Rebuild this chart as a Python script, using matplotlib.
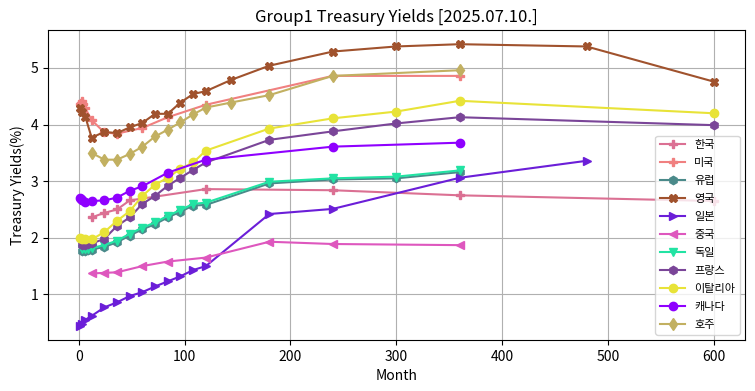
import matplotlib
matplotlib.use("Agg")
import matplotlib.pyplot as plt

plt.rcParams['font.family'] = ['Noto Sans CJK KR', 'DejaVu Sans']

# 국가별 만기(월)와 수익률(%)
kr_month = [12, 24, 36, 48, 120, 240, 360, 600]
kr_yield = [2.36, 2.44, 2.50, 2.66, 2.86, 2.84, 2.75, 2.65]

us_month = [1, 2, 3, 4, 6, 12, 24, 36, 60, 84, 120, 240, 360]
us_yield = [4.36, 4.38, 4.42, 4.36, 4.29, 4.08, 3.86, 3.84, 3.94, 4.13, 4.35, 4.86, 4.86]

eu_month = [3, 6, 9, 12, 24, 36, 48, 60, 72, 84, 96, 108, 120, 180, 240, 300, 360]
eu_yield = [1.77, 1.77, 1.78, 1.79, 1.84, 1.92, 2.04, 2.15, 2.24, 2.36, 2.46, 2.57, 2.58, 2.96, 3.03, 3.05, 3.16]

uk_month = [1, 3, 6, 12, 24, 36, 48, 60, 72, 84, 96, 108, 120, 144, 180, 240, 300, 360, 480, 600]
uk_yield = [4.30, 4.22, 4.14, 3.77, 3.87, 3.85, 3.95, 4.03, 4.19, 4.19, 4.39, 4.54, 4.59, 4.79, 5.04, 5.29, 5.38, 5.42, 5.38, 4.76]

jp_month = [1, 3, 6, 12, 24, 36, 48, 60, 72, 84, 96, 108, 120, 180, 240, 360, 480]
jp_yield = [0.44, 0.47, 0.55, 0.62, 0.77, 0.86, 0.97, 1.04, 1.14, 1.23, 1.32, 1.43, 1.50, 2.42, 2.51, 3.06, 3.36]

cn_month = [12, 24, 36, 60, 84, 120, 180, 240, 360]
cn_yield = [1.37, 1.38, 1.39, 1.50, 1.58, 1.65, 1.93, 1.89, 1.87]

de_month = [3, 6, 9, 12, 24, 36, 48, 60, 72, 84, 96, 108, 120, 180, 240, 300, 360]
de_yield = [1.80, 1.80, 1.81, 1.82, 1.87, 1.95, 2.07, 2.18, 2.27, 2.39, 2.49, 2.60, 2.62, 2.99, 3.05, 3.08, 3.19]

fr_month = [3, 6, 9, 12, 24, 36, 48, 60, 72, 84, 96, 108, 120, 180, 240, 300, 360, 600]
fr_yield = [1.88, 1.88, 1.89, 1.90, 1.98, 2.21, 2.36, 2.60, 2.74, 2.92, 3.06, 3.20, 3.33, 3.73, 3.88, 4.02, 4.13, 3.99]

it_month = [1, 3, 6, 12, 24, 36, 48, 60, 72, 84, 96, 108, 120, 180, 240, 300, 360, 600]
it_yield = [1.99, 1.98, 1.98, 1.97, 2.10, 2.30, 2.47, 2.74, 2.94, 3.06, 3.22, 3.33, 3.54, 3.93, 4.11, 4.23, 4.42, 4.20]

ca_month = [1, 2, 3, 6, 12, 24, 36, 48, 60, 84, 120, 240, 360]
ca_yield = [2.71, 2.68, 2.67, 2.64, 2.65, 2.66, 2.71, 2.83, 2.91, 3.15, 3.38, 3.61, 3.68]

au_month = [12, 24, 36, 48, 60, 72, 84, 96, 108, 120, 144, 180, 240, 360]
au_yield = [3.50, 3.38, 3.38, 3.48, 3.61, 3.79, 3.91, 4.04, 4.18, 4.30, 4.39, 4.52, 4.86, 4.96]

series = [
    ('한국', kr_month, kr_yield, '#DB7093', 'P'),
    ('미국', us_month, us_yield, '#F08080', 'P'),
    ('유럽', eu_month, eu_yield, '#4A8A8A', 'h'),
    ('영국', uk_month, uk_yield, '#A0522D', 'X'),
    ('일본', jp_month, jp_yield, '#6B1ED8', '>'),
    ('중국', cn_month, cn_yield, '#DE57BE', '<'),
    ('독일', de_month, de_yield, '#22E3A3', 'v'),
    ('프랑스', fr_month, fr_yield, '#7A4598', 'h'),
    ('이탈리아', it_month, it_yield, '#E8E338', 'o'),
    ('캐나다', ca_month, ca_yield, '#8F00FF', 'o'),
    ('호주', au_month, au_yield, '#C2B061', 'd'),
]

fig, ax = plt.subplots(figsize=(7.55, 3.91), dpi=100)
for name, m, y, c, mk in series:
    ax.plot(m, y, marker=mk, color=c, label=name)

ax.set_title('Group1 Treasury Yields [2025.07.10.]', fontsize=12)
ax.set_xlabel('Month')
ax.set_ylabel('Treasury Yields(%)')
ax.grid(True)
ax.legend(loc='lower right', fontsize=8, labelspacing=0.72, handlelength=2.3)
fig.subplots_adjust(left=0.064, right=0.987, top=0.923, bottom=0.13)
fig.savefig('out.png', dpi=100)
